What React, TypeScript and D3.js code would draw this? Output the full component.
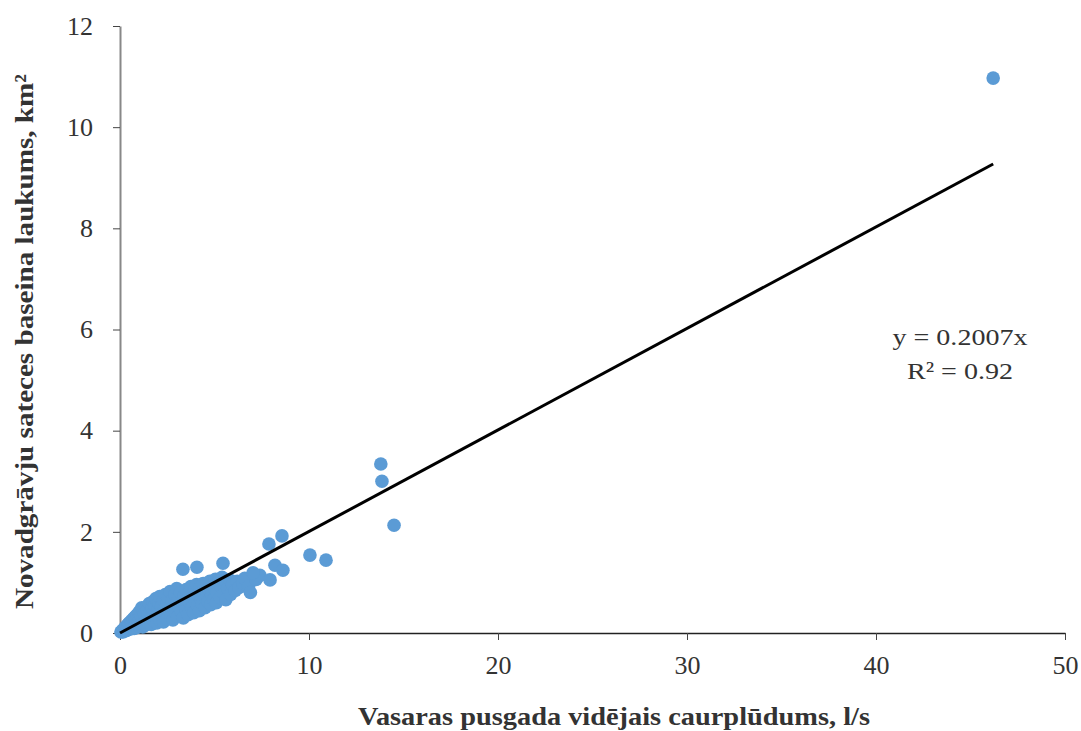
import React, { useEffect, useRef } from "react";
import * as d3 from "d3";

// summer half-year mean discharge, l/s
const flowValues = [
  0.05, 0.1, 0.12, 0.15, 0.2, 0.22, 0.25, 0.3, 0.3, 0.35, 0.38, 0.4, 0.42, 0.45, 0.5, 0.5, 0.55, 0.58,
  0.6, 0.62, 0.65, 0.7, 0.7, 0.75, 0.78, 0.8, 0.82, 0.85, 0.9, 0.9, 0.95, 1.0, 1.0, 1.02, 1.05, 1.1,
  1.1, 1.15, 1.2, 1.2, 1.25, 1.3, 1.3, 1.35, 1.4, 1.4, 1.45, 1.5, 1.5, 1.55, 1.6, 1.6, 1.65, 1.7,
  1.7, 1.75, 1.8, 1.8, 1.85, 1.9, 1.9, 1.95, 2.0, 2.0, 2.05, 2.1, 2.1, 2.15, 2.2, 2.25, 2.3, 2.3,
  2.35, 2.4, 2.45, 2.5, 2.5, 2.55, 2.6, 2.65, 2.7, 2.7, 2.75, 2.8, 2.85, 2.9, 2.95, 3.0, 3.0, 3.05,
  3.1, 3.15, 3.2, 3.25, 3.3, 3.35, 3.4, 3.45, 3.5, 3.5, 3.55, 3.6, 3.65, 3.7, 3.75, 3.8, 3.85, 3.9,
  3.95, 4.0, 4.05, 4.1, 4.15, 4.2, 4.25, 4.3, 4.35, 4.4, 4.45, 4.5, 4.55, 4.6, 4.65, 4.7, 4.75, 4.8,
  4.85, 4.9, 4.95, 5.0, 5.05, 5.1, 5.15, 5.2, 5.3, 5.35, 5.4, 5.5, 5.55, 5.6, 5.7, 5.8, 5.85, 5.95,
  6.1, 6.2, 6.3, 6.5, 6.6, 6.8, 6.9, 7.2, 7.4,
];

// catchment area of drainage ditches, km2
const areaValues = [
  0.02, 0.03, 0.05, 0.02, 0.06, 0.09, 0.04, 0.08, 0.12, 0.05, 0.15, 0.1, 0.07, 0.18, 0.12, 0.2, 0.08, 0.15,
  0.24, 0.1, 0.19, 0.28, 0.13, 0.09, 0.22, 0.32, 0.16, 0.26, 0.11, 0.36, 0.2, 0.3, 0.14, 0.42, 0.24, 0.18,
  0.35, 0.5, 0.12, 0.28, 0.44, 0.22, 0.38, 0.16, 0.52, 0.3, 0.45, 0.2, 0.36, 0.58, 0.26, 0.42, 0.17, 0.5,
  0.33, 0.62, 0.24, 0.4, 0.55, 0.3, 0.68, 0.2, 0.46, 0.36, 0.6, 0.26, 0.72, 0.42, 0.52, 0.32, 0.65, 0.22,
  0.46, 0.76, 0.38, 0.58, 0.28, 0.7, 0.44, 0.82, 0.34, 0.54, 0.64, 0.26, 0.48, 0.76, 0.4, 0.58, 0.88, 0.32,
  0.68, 0.5, 0.8, 0.42, 0.62, 0.3, 0.74, 0.55, 0.86, 0.46, 0.66, 0.36, 0.8, 0.58, 0.92, 0.5, 0.7, 0.4,
  0.84, 0.62, 0.96, 0.54, 0.76, 0.44, 0.9, 0.66, 0.58, 0.98, 0.8, 0.5, 0.7, 0.94, 0.62, 0.86, 1.02, 0.56,
  0.76, 0.96, 0.66, 0.88, 1.06, 0.6, 0.8, 1.0, 0.7, 0.92, 1.1, 0.78, 1.04, 0.66, 0.88, 1.05, 0.76, 0.96,
  0.84, 1.02, 0.9, 0.98, 1.08, 0.92, 0.8, 1.06, 1.14,
];

const outlierFlow = [3.33, 4.07, 5.45, 7.04, 7.88, 7.94, 8.2, 8.57, 8.62, 10.05, 10.9, 13.8, 13.86, 14.5, 46.2];
const outlierArea = [1.26, 1.3, 1.38, 1.19, 1.76, 1.05, 1.34, 1.92, 1.24, 1.54, 1.44, 3.34, 3.0, 2.13, 10.97];

const slope = 0.2007;
const rSquared = 0.92;
const xTicks = [0, 10, 20, 30, 40, 50];
const yTicks = [0, 2, 4, 6, 8, 10, 12];

const W = 1081;
const H = 731;

export default function App() {
  const svgRef = useRef<SVGSVGElement>(null);

  useEffect(() => {
    document.body.style.margin = "0";
    const svg = d3.select(svgRef.current);
    svg.selectAll("*").remove();

    const x = d3.scaleLinear().domain([0, 50]).range([120, 1065]);
    const y = d3.scaleLinear().domain([0, 12]).range([633, 26]);

    const points = flowValues
      .map((f, i) => [f, areaValues[i]])
      .concat(outlierFlow.map((f, i) => [f, outlierArea[i]]));

    const font = "'Liberation Serif', 'Times New Roman', serif";

    // axes
    const xAxis = svg
      .append("g")
      .attr("transform", `translate(0,${y(0)})`)
      .call(d3.axisBottom(x).tickValues(xTicks).tickSize(7).tickSizeOuter(0).tickPadding(16));
    xAxis.select(".domain").attr("stroke", "#222").attr("stroke-width", 1.5);
    xAxis.selectAll(".tick line").attr("stroke", "#444");
    xAxis.selectAll("text").attr("font-family", font).attr("font-size", 26).attr("fill", "#333");

    const yAxis = svg
      .append("g")
      .attr("transform", `translate(${x(0)},0)`)
      .call(d3.axisLeft(y).tickValues(yTicks).tickSize(7).tickSizeOuter(0).tickPadding(20));
    yAxis.select(".domain").attr("stroke", "#888").attr("stroke-width", 2);
    yAxis.selectAll(".tick line").attr("stroke", "#444");
    yAxis.selectAll("text").attr("font-family", font).attr("font-size", 26).attr("fill", "#333");

    // points
    svg
      .append("g")
      .selectAll("circle")
      .data(points)
      .join("circle")
      .attr("cx", (d) => x(d[0]))
      .attr("cy", (d) => y(d[1]))
      .attr("r", 6.8)
      .attr("fill", "#5b9bd5");

    // trend line
    const maxFlow = d3.max(points, (d) => d[0]) as number;
    svg
      .append("line")
      .attr("x1", x(0))
      .attr("y1", y(0))
      .attr("x2", x(maxFlow))
      .attr("y2", y(slope * maxFlow))
      .attr("stroke", "#000")
      .attr("stroke-width", 3);

    // equation
    const eqText = (s: string, cy: number, len: number) =>
      svg
        .append("text")
        .attr("x", 960 - len / 2)
        .attr("y", cy)
        .attr("textLength", len)
        .attr("lengthAdjust", "spacingAndGlyphs")
        .attr("font-family", font)
        .attr("font-size", 24)
        .attr("fill", "#333")
        .text(s);
    eqText(`y = ${slope}x`, 345, 135);
    eqText(`R² = ${rSquared}`, 379, 106);

    // axis titles
    svg
      .append("text")
      .attr("x", 358)
      .attr("y", 725)
      .attr("textLength", 512)
      .attr("lengthAdjust", "spacingAndGlyphs")
      .attr("font-family", font)
      .attr("font-weight", "bold")
      .attr("font-size", 26)
      .attr("fill", "#333")
      .text("Vasaras pusgada vidējais caurplūdums, l/s");

    svg
      .append("text")
      .attr("transform", `translate(33,609) rotate(-90)`)
      .attr("textLength", 535)
      .attr("lengthAdjust", "spacingAndGlyphs")
      .attr("font-family", font)
      .attr("font-weight", "bold")
      .attr("font-size", 26)
      .attr("fill", "#333")
      .text("Novadgrāvju sateces baseina laukums, km²");
  }, []);

  return <svg ref={svgRef} width={W} height={H} style={{ display: "block", background: "#fff" }} />;
}
